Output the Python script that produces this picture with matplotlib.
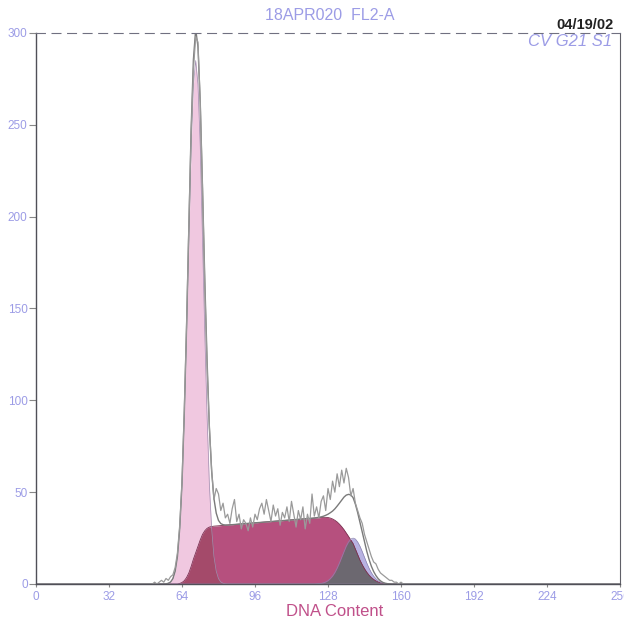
import numpy as np
import matplotlib
matplotlib.use("Agg")
import matplotlib.pyplot as plt

plt.rcParams['font.family'] = ['Liberation Sans', 'DejaVu Sans']

# raw histogram, channels 50..160
data_start = 50
data_counts = [0, 0, 1, 0, 1, 2, 1, 3, 2, 4,
               5, 9, 17, 32, 56, 95, 142, 196, 245, 280,
               298, 295, 262, 215, 162, 118, 86, 62, 46, 52,
               49, 40, 44, 36, 38, 33, 41, 46, 34, 38,
               30, 35, 33, 29, 36, 31, 38, 35, 41, 44,
               38, 46, 40, 34, 43, 37, 41, 32, 39, 36,
               42, 34, 45, 38, 31, 40, 35, 42, 30, 38,
               33, 49, 37, 42, 36, 45, 48, 40, 52, 46,
               56, 50, 60, 53, 62, 55, 63, 58, 48, 52,
               44, 40, 36, 33, 27, 23, 19, 15, 12, 11,
               8, 6, 5, 4, 3, 2, 2, 1, 1, 0, 1]

# G0/G1 fit, channels 57..83
g1_start = 57
g1_fit = [0.1, 0.4, 1.1, 2.9, 7, 15, 30, 54, 91, 136, 188, 238, 272, 285,
          272, 238, 188, 136, 91, 54, 30, 15, 7, 2.9, 1.1, 0.4, 0.1]

# S phase fit, channels 62..155
s_start = 62
s_fit = [0, 0.3, 0.8, 1.8, 3.5, 6, 9.5, 13.5, 17, 20.5,
         24, 27, 29, 30.3, 31, 31.3, 31.5, 31.6, 31.7, 31.8,
         31.9, 32.0, 32.1, 32.2, 32.3, 32.4, 32.5, 32.6, 32.7, 32.8,
         32.9, 33.0, 33.1, 33.2, 33.3, 33.4, 33.5, 33.6, 33.7, 33.8,
         33.9, 34.0, 34.1, 34.2, 34.3, 34.4, 34.5, 34.6, 34.7, 34.8,
         34.9, 35.0, 35.1, 35.2, 35.3, 35.4, 35.5, 35.6, 35.7, 35.8,
         35.9, 36.0, 36.1, 36.2, 36.3, 36.3, 36.2, 35.9, 35.4, 34.7,
         33.8, 32.6, 31.2, 29.6, 27.8, 25.9, 24, 22, 19, 16,
         13, 10.5, 8.3, 6.4, 4.8, 3.5, 2.5, 1.7, 1.1, 0.6,
         0.3, 0.1, 0, 0]

# G2/M fit, channels 123..155
g2_start = 123
g2_fit = [0.1, 0.2, 0.35, 0.6, 1.1, 1.8, 2.9, 4.3, 6.2, 8.6, 11.4, 14.5,
          17.7, 20.6, 22.9, 24.5, 25, 24.5, 22.9, 20.6, 17.7, 14.5, 11.4,
          8.6, 6.2, 4.3, 2.9, 1.8, 1.1, 0.6, 0.35, 0.2, 0.1]

x_ticks = [0, 32, 64, 96, 128, 160, 192, 224, 256]
y_ticks = [0, 50, 100, 150, 200, 250, 300]


def place(start, vals, n=257):
    arr = np.zeros(n)
    arr[start:start + len(vals)] = vals
    return arr


ch = np.arange(257)
data = place(data_start, data_counts)
g1 = place(g1_start, g1_fit)
s = place(s_start, s_fit)
g2 = place(g2_start, g2_fit)
total = g1 + s + g2

lav = '#9c9ce6'
W = 624
fig = plt.figure(figsize=(6.24, 6.24), dpi=100)
ax = fig.add_axes([36 / W, 1 - 584 / W, 584 / W, 551 / W])

ax.fill_between(ch, 0, g1, color='#f0c8e0', lw=0)
ax.fill_between(ch, 0, g2, color='#b8b2e2', lw=0)
ax.fill_between(ch, 0, s, color='#b6507e', lw=0)
ax.fill_between(ch, 0, np.minimum(g1, s), color='#a44a6a', lw=0)
ax.fill_between(ch, 0, np.minimum(g2, s), color='#6c6870', lw=0)
ax.plot(ch, s, color='#7a3050', lw=0.6)
ax.plot(ch, g2, color='#8a84b0', lw=0.5)
ax.plot(ch, g1, color='#a090b0', lw=0.5)

ax.plot(ch, total, color='#7a7a7a', lw=1.0)
ax.plot(ch, data, color='#9a9a9a', lw=0.9)

ax.set_xlim(0, 256)
ax.set_ylim(0, 300)
ax.set_xticks(x_ticks)
ax.set_yticks(y_ticks)
ax.tick_params(axis='both', colors='#888888', labelcolor=lav, labelsize=8.5)
ax.tick_params(axis='x', length=2, pad=3)
ax.tick_params(axis='y', length=5, pad=1)

for side in ['left', 'bottom']:
    ax.spines[side].set_color('#505058')
    ax.spines[side].set_linewidth(1.0)
ax.spines['top'].set_color('#707080')
ax.spines['top'].set_linestyle((0, (8, 6)))
ax.spines['top'].set_linewidth(0.8)
ax.spines['right'].set_color('#606068')
ax.spines['right'].set_linewidth(0.8)

fig.text(335 / W, 1 - 612 / W, 'DNA Content', color='#c0508a', fontsize=12,
         ha='center', va='center')
fig.text(330 / W, 1 - 16 / W, '18APR020  FL2-A', color=lav, fontsize=11.5,
         ha='center', va='center')
fig.text(614 / W, 1 - 25 / W, '04/19/02', color='#222222', fontsize=10.5,
         fontweight='bold', ha='right', va='center')
fig.text(612 / W, 1 - 42 / W, 'CV G21 S1', color=lav, fontsize=12,
         style='italic', ha='right', va='center')

fig.savefig('out.png', dpi=100, facecolor='white')
